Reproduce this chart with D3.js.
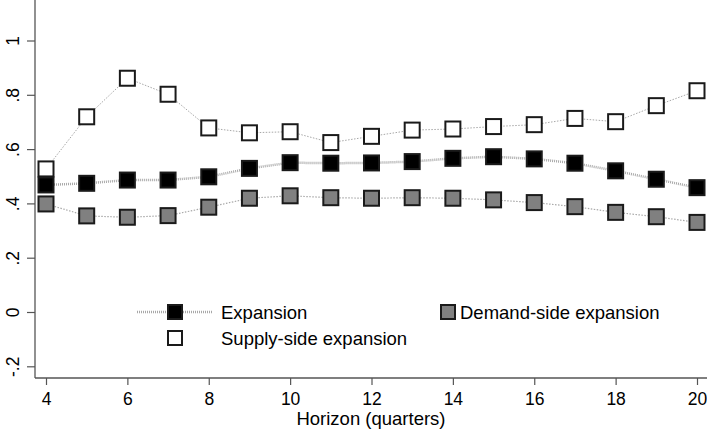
<!DOCTYPE html>
<html>
<head>
<meta charset="utf-8">
<script src="https://cdn.jsdelivr.net/npm/d3@7"></script>
<style>
  html, body { margin: 0; padding: 0; background: #fff; }
  svg { display: block; font-family: "Liberation Sans", Arial, Helvetica, sans-serif; }
</style>
</head>
<body>
<svg id="chart" width="707" height="429"></svg>
<script>
// Horizons (quarters)
const horizons = [4, 5, 6, 7, 8, 9, 10, 11, 12, 13, 14, 15, 16, 17, 18, 19, 20];

// Estimated effects by horizon
const expansion = [0.468, 0.474, 0.486, 0.486, 0.498, 0.529, 0.550, 0.548, 0.549, 0.554, 0.566, 0.572, 0.564, 0.548, 0.520, 0.489, 0.458];
const supplySide = [0.527, 0.719, 0.861, 0.802, 0.678, 0.660, 0.664, 0.624, 0.647, 0.670, 0.674, 0.683, 0.690, 0.713, 0.701, 0.760, 0.815];
const demandSide = [0.398, 0.354, 0.349, 0.355, 0.386, 0.419, 0.428, 0.421, 0.419, 0.421, 0.419, 0.413, 0.403, 0.388, 0.367, 0.351, 0.330];

const xTicks = [4, 6, 8, 10, 12, 14, 16, 18, 20];
const yTicks = [-0.2, 0, 0.2, 0.4, 0.6, 0.8, 1];
const yTickLabels = ["-.2", "0", ".2", ".4", ".6", ".8", "1"];

const svg = d3.select("#chart");

const x = d3.scaleLinear().domain([4, 20]).range([46, 697]);
const y = d3.scaleLinear().domain([0, 1]).range([312, 40.5]);

const axisX0 = 35, axisY0 = 378;

// y axis
const yAxis = svg.append("g").attr("transform", `translate(${axisX0},0)`)
  .call(d3.axisLeft(y).tickValues(yTicks).tickSize(8).tickFormat((d, i) => yTickLabels[i]));
yAxis.select(".domain").remove();
yAxis.selectAll(".tick line").attr("stroke", "#555").attr("stroke-width", 1.2);
yAxis.selectAll(".tick text")
  .attr("x", 0).attr("dy", 0)
  .attr("transform", "translate(-16,0) rotate(-90)")
  .attr("text-anchor", "middle")
  .style("font-size", "17.5px").attr("fill", "#000");
svg.append("line").attr("x1", axisX0).attr("x2", axisX0).attr("y1", 0).attr("y2", axisY0)
  .attr("stroke", "#555").attr("stroke-width", 1.3);

// x axis
const xAxis = svg.append("g").attr("transform", `translate(0,${axisY0})`)
  .call(d3.axisBottom(x).tickValues(xTicks).tickSize(7));
xAxis.select(".domain").remove();
xAxis.selectAll(".tick line").attr("stroke", "#555").attr("stroke-width", 1.2);
xAxis.selectAll(".tick text")
  .attr("y", 27).attr("dy", 0)
  .style("font-size", "17.5px").attr("fill", "#000");
svg.append("line").attr("x1", axisX0).attr("x2", 707).attr("y1", axisY0).attr("y2", axisY0)
  .attr("stroke", "#555").attr("stroke-width", 1.3);

svg.append("text").attr("x", 371).attr("y", 425).attr("text-anchor", "middle")
  .style("font-size", "18.5px").text("Horizon (quarters)");

// series
const series = [
  { name: "Supply-side expansion", values: supplySide, fill: "#ffffff", lineWidth: 1, dash: "1.5,1.5" },
  { name: "Demand-side expansion", values: demandSide, fill: "#808080", lineWidth: 1.2, dash: "1.5,1.5" },
  { name: "Expansion", values: expansion, fill: "#000000", lineWidth: 2.5, dash: "1,1" }
];

const line = d3.line().x((d, i) => x(horizons[i])).y(d => y(d));
const S = 15;

series.forEach(s => {
  svg.append("path").datum(s.values).attr("d", line)
    .attr("fill", "none").attr("stroke", "#a8a8a8")
    .attr("stroke-width", s.lineWidth).attr("stroke-dasharray", s.dash);
});
series.forEach(s => {
  svg.append("g").selectAll("rect").data(s.values).join("rect")
    .attr("x", (d, i) => x(horizons[i]) - S / 2)
    .attr("y", d => y(d) - S / 2)
    .attr("width", S).attr("height", S)
    .attr("fill", s.fill).attr("stroke", "#1a1a1a").attr("stroke-width", 2);
});

// legend
const lg = svg.append("g");
lg.append("line").attr("x1", 137).attr("x2", 212).attr("y1", 312).attr("y2", 312)
  .attr("stroke", "#a8a8a8").attr("stroke-width", 2.5).attr("stroke-dasharray", "1,1");
const legendItems = [
  { name: "Expansion", fill: "#000000", mx: 175, my: 312, tx: 221 },
  { name: "Demand-side expansion", fill: "#808080", mx: 448, my: 312, tx: 460 },
  { name: "Supply-side expansion", fill: "#ffffff", mx: 175, my: 338, tx: 221 }
];
legendItems.forEach(d => {
  lg.append("rect").attr("x", d.mx - 7).attr("y", d.my - 7).attr("width", 14).attr("height", 14)
    .attr("fill", d.fill).attr("stroke", "#1a1a1a").attr("stroke-width", 2);
  lg.append("text").attr("x", d.tx).attr("y", d.my + 6.5)
    .style("font-size", "18.5px").text(d.name);
});
</script>
</body>
</html>
